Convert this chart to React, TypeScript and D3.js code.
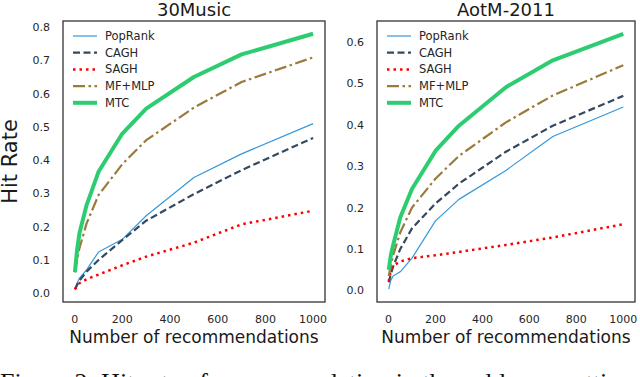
import React, { useEffect, useRef } from 'react';
import * as d3 from 'd3';

// recommendation list sizes (x values shared by every series)
const nRecs = [1, 10, 20, 50, 100, 200, 300, 500, 700, 1000];
const xTicks = [0, 200, 400, 600, 800, 1000];

const seriesNames = ['PopRank', 'CAGH', 'SAGH', 'MF+MLP', 'MTC'];

// 30Music hit rates
const music30PopRank = [0.012, 0.03, 0.045, 0.07, 0.124, 0.162, 0.233, 0.348, 0.419, 0.51];
const music30CAGH = [0.012, 0.025, 0.038, 0.065, 0.1, 0.16, 0.218, 0.298, 0.37, 0.467];
const music30SAGH = [0.012, 0.02, 0.03, 0.042, 0.056, 0.084, 0.11, 0.152, 0.207, 0.248];
const music30MFMLP = [0.063, 0.1, 0.135, 0.21, 0.295, 0.388, 0.46, 0.558, 0.635, 0.709];
const music30MTC = [0.063, 0.13, 0.18, 0.265, 0.365, 0.48, 0.555, 0.65, 0.718, 0.78];
const music30Ticks = [0.0, 0.1, 0.2, 0.3, 0.4, 0.5, 0.6, 0.7, 0.8];

// AotM-2011 hit rates
const aotmPopRank = [0.003, 0.025, 0.035, 0.045, 0.078, 0.168, 0.22, 0.29, 0.372, 0.443];
const aotmCAGH = [0.02, 0.04, 0.058, 0.1, 0.15, 0.21, 0.258, 0.335, 0.398, 0.47];
const aotmSAGH = [0.022, 0.05, 0.06, 0.07, 0.078, 0.085, 0.093, 0.11, 0.128, 0.16];
const aotmMFMLP = [0.035, 0.06, 0.085, 0.14, 0.2, 0.27, 0.325, 0.406, 0.471, 0.544];
const aotmMTC = [0.05, 0.085, 0.11, 0.176, 0.245, 0.337, 0.398, 0.491, 0.556, 0.62];
const aotmTicks = [0.0, 0.1, 0.2, 0.3, 0.4, 0.5, 0.6];

// line styles per method
const styles = [
  { color: '#3498db', width: 1.2, dash: null },
  { color: '#34495e', width: 2.2, dash: '7,3.5' },
  { color: '#ff0000', width: 2.5, dash: '2.5,4' },
  { color: '#9a7b3c', width: 2.2, dash: '12,3.5,2.5,3.5' },
  { color: '#2ecc71', width: 4, dash: null },
];

const FONT = '"DejaVu Sans", sans-serif';

function drawPanel(svg, opts) {
  const { left, right, top, bottom, title, series, yTicks, yLabel } = opts;

  // matplotlib-like 5% margins around data extent
  const xMin = d3.min(nRecs), xMax = d3.max(nRecs);
  const xPad = (xMax - xMin) * 0.05;
  const allY = series.flat();
  const yMin = d3.min(allY), yMax = d3.max(allY);
  const yPad = (yMax - yMin) * 0.05;

  const x = d3.scaleLinear().domain([xMin - xPad, xMax + xPad]).range([left, right]);
  const y = d3.scaleLinear().domain([yMin - yPad, yMax + yPad]).range([bottom, top]);

  const g = svg.append('g');

  // lines
  const line = d3.line()
    .x((d, i) => x(nRecs[i]))
    .y(d => y(d));

  series.forEach((vals, k) => {
    const s = styles[k];
    g.append('path')
      .datum(vals)
      .attr('d', line)
      .attr('fill', 'none')
      .attr('stroke', s.color)
      .attr('stroke-width', s.width)
      .attr('stroke-dasharray', s.dash)
      .attr('stroke-linejoin', 'round');
  });

  // frame
  g.append('rect')
    .attr('x', left)
    .attr('y', top)
    .attr('width', right - left)
    .attr('height', bottom - top)
    .attr('fill', 'none')
    .attr('stroke', '#333')
    .attr('stroke-width', 1.3);

  // x tick labels
  g.selectAll('.xtick')
    .data(xTicks)
    .enter()
    .append('text')
    .attr('x', d => x(d))
    .attr('y', bottom + 21)
    .attr('text-anchor', 'middle')
    .style('font-family', FONT)
    .style('font-size', '11px')
    .style('fill', '#262626')
    .text(d => d);

  // y tick labels
  g.selectAll('.ytick')
    .data(yTicks)
    .enter()
    .append('text')
    .attr('x', left - 13)
    .attr('y', d => y(d) + 4)
    .attr('text-anchor', 'end')
    .style('font-family', FONT)
    .style('font-size', '11px')
    .style('fill', '#262626')
    .text(d => d.toFixed(1));

  // title
  g.append('text')
    .attr('x', (left + right) / 2)
    .attr('y', top - 5)
    .attr('text-anchor', 'middle')
    .style('font-family', FONT)
    .style('font-size', '18px')
    .style('fill', '#1a1a1a')
    .text(title);

  // x axis label
  g.append('text')
    .attr('x', (left + right) / 2)
    .attr('y', bottom + 41)
    .attr('text-anchor', 'middle')
    .style('font-family', FONT)
    .style('font-size', '17px')
    .style('fill', '#1a1a1a')
    .text('Number of recommendations');

  if (yLabel) {
    g.append('text')
      .attr('transform', `translate(17,${(top + bottom) / 2}) rotate(-90)`)
      .attr('text-anchor', 'middle')
      .style('font-family', FONT)
      .style('font-size', '21px')
      .style('fill', '#1a1a1a')
      .text(yLabel);
  }

  // legend
  const legend = g.append('g');
  seriesNames.forEach((name, k) => {
    const s = styles[k];
    const ly = top + 15 + k * 16.7;
    legend.append('line')
      .attr('x1', left + 10)
      .attr('x2', left + 34)
      .attr('y1', ly)
      .attr('y2', ly)
      .attr('stroke', s.color)
      .attr('stroke-width', s.width)
      .attr('stroke-dasharray', s.dash);
    legend.append('text')
      .attr('x', left + 42)
      .attr('y', ly + 4)
      .style('font-family', FONT)
      .style('font-size', '11.5px')
      .style('fill', '#262626')
      .text(name);
  });
}

function App() {
  const svgRef = useRef();

  useEffect(() => {
    const svg = d3.select(svgRef.current);
    svg.selectAll('*').remove();

    drawPanel(svg, {
      left: 63, right: 325, top: 21, bottom: 302,
      title: '30Music',
      series: [music30PopRank, music30CAGH, music30SAGH, music30MFMLP, music30MTC],
      yTicks: music30Ticks,
      yLabel: 'Hit Rate',
    });

    drawPanel(svg, {
      left: 377, right: 635, top: 21, bottom: 302,
      title: 'AotM-2011',
      series: [aotmPopRank, aotmCAGH, aotmSAGH, aotmMFMLP, aotmMTC],
      yTicks: aotmTicks,
      yLabel: null,
    });

    // caption peeking in at the bottom edge
    svg.append('text')
      .attr('x', 0)
      .attr('y', 391)
      .style('font-family', '"Liberation Serif", serif')
      .style('font-size', '26px')
      .style('fill', '#111')
      .text('Figure 2: Hit rate of recommendation in the cold-user setting');
  }, []);

  return (
    <svg
      ref={svgRef}
      width={640}
      height={377}
      style={{ position: 'absolute', left: 0, top: 0, background: '#fff' }}
    />
  );
}

export default App;
